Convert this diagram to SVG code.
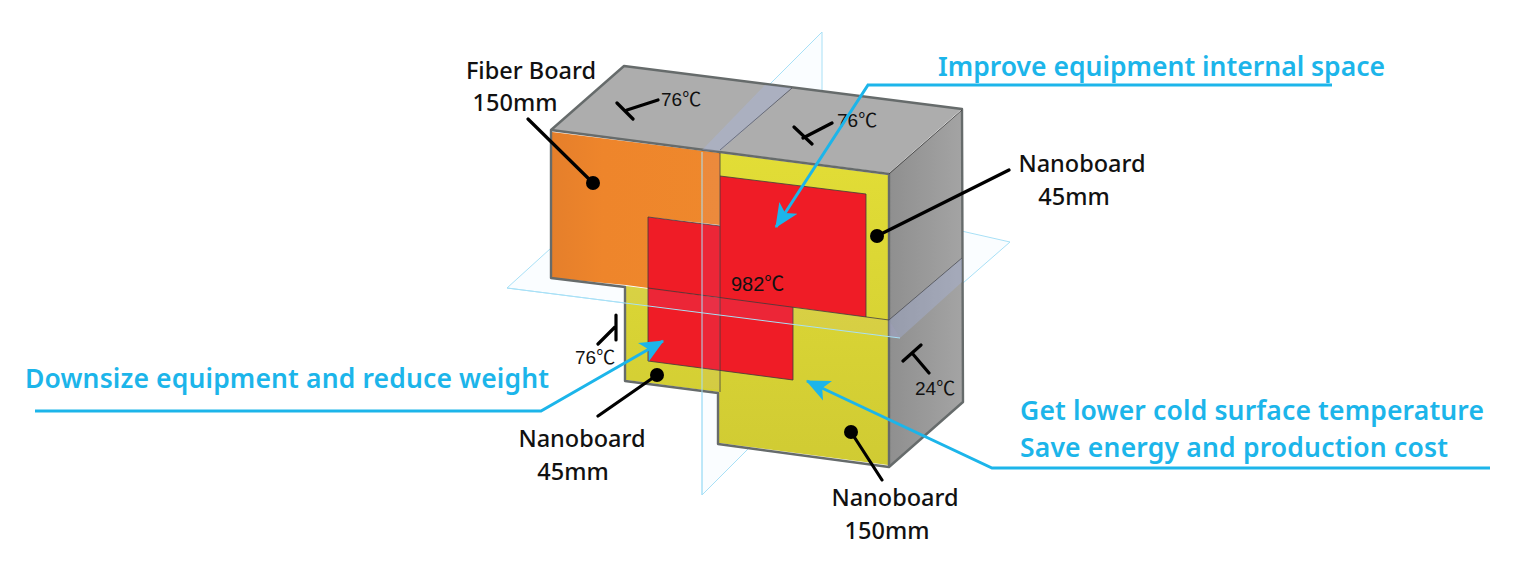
<svg xmlns="http://www.w3.org/2000/svg" width="1532" height="574" viewBox="0 0 1532 574">
<style>
.plane{fill:#e6f7fd;fill-opacity:.2;stroke:#a8e0f6;stroke-width:1}
.tint{fill:#a8b8ee;fill-opacity:.3;stroke:none}
.tintf{fill:#c8a0ff;fill-opacity:.08;stroke:none}
.edge{stroke:#666b6b;stroke-width:2.4;fill:none;stroke-linejoin:round}
.k{stroke:#000;stroke-width:3.2;fill:none;stroke-linecap:round}
.lbl{font-family:"Noto Sans",sans-serif;font-size:23.5px;font-weight:500;fill:#111;text-anchor:middle}
.t{font-family:"Liberation Sans","Noto Sans CJK JP",sans-serif;font-size:19px;fill:#111}
.b{font-family:"Noto Sans",sans-serif;font-size:26.5px;font-weight:600;fill:#1cb5ea}
.bl{stroke:#1cb5ea;stroke-width:3;fill:none}
</style>
<defs>
<linearGradient id="og" x1="0" x2="1" y1="0" y2="0"><stop offset="0" stop-color="#e57f2b"/><stop offset=".3" stop-color="#ee852b"/><stop offset="1" stop-color="#ef882c"/></linearGradient>
<linearGradient id="yg" x1="0" x2="0" y1="0" y2="1"><stop offset="0" stop-color="#e2dd36"/><stop offset="1" stop-color="#d0cb33"/></linearGradient>
<linearGradient id="gs" x1="0" x2="1" y1="0" y2="0"><stop offset="0" stop-color="#8f8f8f"/><stop offset="1" stop-color="#a4a4a4"/></linearGradient>
<marker id="ah" viewBox="0 0 20 20" refX="19" refY="10" markerWidth="8" markerHeight="8" orient="auto-start-reverse" markerUnits="strokeWidth"><path d="M0 1L20 10L0 19L5 10Z" fill="#1cb5ea"/></marker>
</defs>
<g id="planes">
<polygon class="plane" points="507,288 648,160 1010,242 900,338"/>
<polygon class="plane" points="702,152 822,32 822,375 702,495"/>
</g>
<g id="block">
<polygon fill="#adadad" points="552,130 624,66 962,109 889,173"/>
<polygon fill="url(#gs)" points="889,173 962,110 963,402 889,467"/>
<polygon fill="url(#yg)" points="720,153 888,175 888,465 719,443 719,392 626,380 626,286 720,298"/>
<polygon fill="#ef1c26" points="720,176 866,194 866,317 793,307 793,380 648,361 648,288 720,298"/>
<polygon fill="url(#og)" points="552,132 720,153 720,225 648,217 648,288 626,285 552,278"/>
<polygon fill="#ef1c26" points="648,217 720,226 720,298 648,289"/>
<polygon class="edge" points="551,130 624,66 962,109 963,402 889,467 718,444 718,393 625,381 625,287 551,278"/>
<path class="edge" d="M551,130L889,174V467"/>
<path d="M889,174L962,110M889,320L962,258M648,217L720,226M720,176L866,194V317M648,288L889,320M648,217V361L793,380V307M720,153V392M792,88L720,150" stroke="#3c3c3c" stroke-width="1" fill="none" opacity=".8"/>
<polygon class="tint" points="702,150 765,85 792,88 720,151"/>
<polygon class="tintf" points="702,152 720,154 720,390 702,388"/>
<polygon class="tintf" points="626,286 889,320 900,338 626,302"/>
<polygon class="tint" points="889,320 962,258 962,282 900,338 889,336"/>
<path d="M702,152V495M507,288L900,338" stroke="#a8e0f6" stroke-width="1" fill="none"/>
</g>
<g id="ticks">
<path class="k" d="M658,100L627,110M617,103L633,119M832,123L803,138M794,127L812,144M616,315V340M598,344L615,327M903,361L921,345M912,353L929,373"/>
<text class="t" x="661" y="106">76℃</text>
<text class="t" x="837" y="127">76℃</text>
<text class="t" x="575" y="364">76℃</text>
<text class="t" x="915" y="395">24℃</text>
<text class="t" x="731" y="291" style="font-size:20px">982℃</text>
</g>
<g id="leaders">
<path class="k" d="M528,119L593,183M1009,170L877,236M598,416L657,375M882,480L851,432"/>
<circle cx="593" cy="183" r="7"/><circle cx="877" cy="236" r="7"/><circle cx="657" cy="375" r="7"/><circle cx="851" cy="432" r="7"/>
</g>
<g id="connectors">
<path class="bl" d="M1332,85H868L776,227" marker-end="url(#ah)"/>
<path class="bl" d="M35,411H541L663,341" marker-end="url(#ah)"/>
<path class="bl" d="M1490,468H992L807,381" marker-end="url(#ah)"/>
</g>
<g id="label-fiber"><text class="lbl" x="531" y="79">Fiber Board</text><text class="lbl" x="515" y="111">150mm</text></g>
<g id="label-nano-right"><text class="lbl" x="1082" y="172">Nanoboard</text><text class="lbl" x="1074" y="205">45mm</text></g>
<g id="label-nano-left"><text class="lbl" x="582" y="447">Nanoboard</text><text class="lbl" x="573" y="480">45mm</text></g>
<g id="label-nano-bottom"><text class="lbl" x="895" y="506">Nanoboard</text><text class="lbl" x="887" y="539">150mm</text></g>
<g id="benefits">
<text class="b" x="938" y="76" textLength="447">Improve equipment internal space</text>
<text class="b" x="25" y="388" textLength="524">Downsize equipment and reduce weight</text>
<text class="b" x="1020" y="420" textLength="464">Get lower cold surface temperature</text>
<text class="b" x="1020" y="457" textLength="428">Save energy and production cost</text>
</g>
</svg>
